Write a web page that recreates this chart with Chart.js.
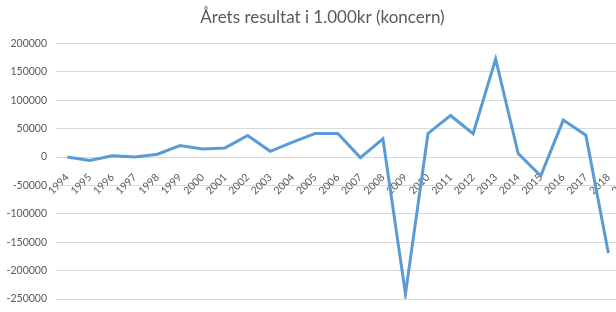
<!DOCTYPE html>
<html>
<head>
<meta charset="utf-8">
<script src="https://cdn.jsdelivr.net/npm/chart.js@4/dist/chart.umd.min.js"></script>
<style>
  html, body { margin: 0; padding: 0; background: #fff; overflow: hidden; }
  #wrap { width: 654px; height: 312px; }
</style>
</head>
<body>
<div id="wrap"><canvas id="chart"></canvas></div>
<script>
// years along the x axis (the last one is cut off at the right edge)
const years = ['1994','1995','1996','1997','1998','1999','2000','2001','2002','2003',
               '2004','2005','2006','2007','2008','2009','2010','2011','2012','2013',
               '2014','2015','2016','2017','2018','2019'];

// result in 1.000 kr
const resultat = [0, -6000, 2000, 0, 5000, 20000, 14000, 16000, 38000, 10000,
                  26000, 41500, 41500, -1000, 32000, -241000, 41500, 73000, 41000, 172500,
                  6000, -33000, 65000, 38500, -169000, null];

const yTicks = [200000, 150000, 100000, 50000, 0, -50000, -100000, -150000, -200000, -250000];

const textColor = '#595959';
const gridColor = '#d9d9d9';

document.addEventListener('DOMContentLoaded', function(){

    const ctx = document.getElementById('chart');

    new Chart(ctx, {
        type: 'line',
        data: {
            labels: years,
            datasets: [{
                label: 'Årets resultat',
                data: resultat,
                borderColor: '#5b9bd5',
                borderWidth: 3,
                pointRadius: 0,
                tension: 0,
                fill: false
            }]
        },
        options: {
            responsive: true,
            maintainAspectRatio: false,
            animation: false,
            layout: { padding: { top: 7, right: 9, bottom: 13, left: 0 } },
            plugins: {
                legend: { display: false },
                tooltip: { enabled: false },
                title: {
                    display: true,
                    text: 'Årets resultat i 1.000kr (koncern)',
                    color: textColor,
                    font: { family: 'Lato', size: 17, weight: 'normal' },
                    padding: { top: 0, bottom: 16 }
                }
            },
            scales: {
                x: {
                    position: { y: 0 },
                    offset: true,
                    grid: { display: false, drawTicks: false },
                    border: { display: false },
                    ticks: {
                        color: textColor,
                        font: { family: 'Lato', size: 10.5 },
                        minRotation: 45,
                        maxRotation: 45,
                        autoSkip: false,
                        padding: 14
                    }
                },
                y: {
                    min: -250000,
                    max: 200000,
                    afterFit: function(scale){
                        scale.width = 56;
                        scale.paddingTop = 0;
                        scale.paddingBottom = 0;
                    },
                    afterBuildTicks: function(scale){
                        scale.ticks = yTicks.map(v => ({ value: v }));
                    },
                    grid: { color: gridColor, drawTicks: false, lineWidth: 1 },
                    border: { display: false },
                    ticks: {
                        color: textColor,
                        font: { family: 'Lato', size: 10.5 },
                        padding: 9,
                        callback: v => String(v)
                    }
                }
            }
        }
    });

});
</script>
</body>
</html>
